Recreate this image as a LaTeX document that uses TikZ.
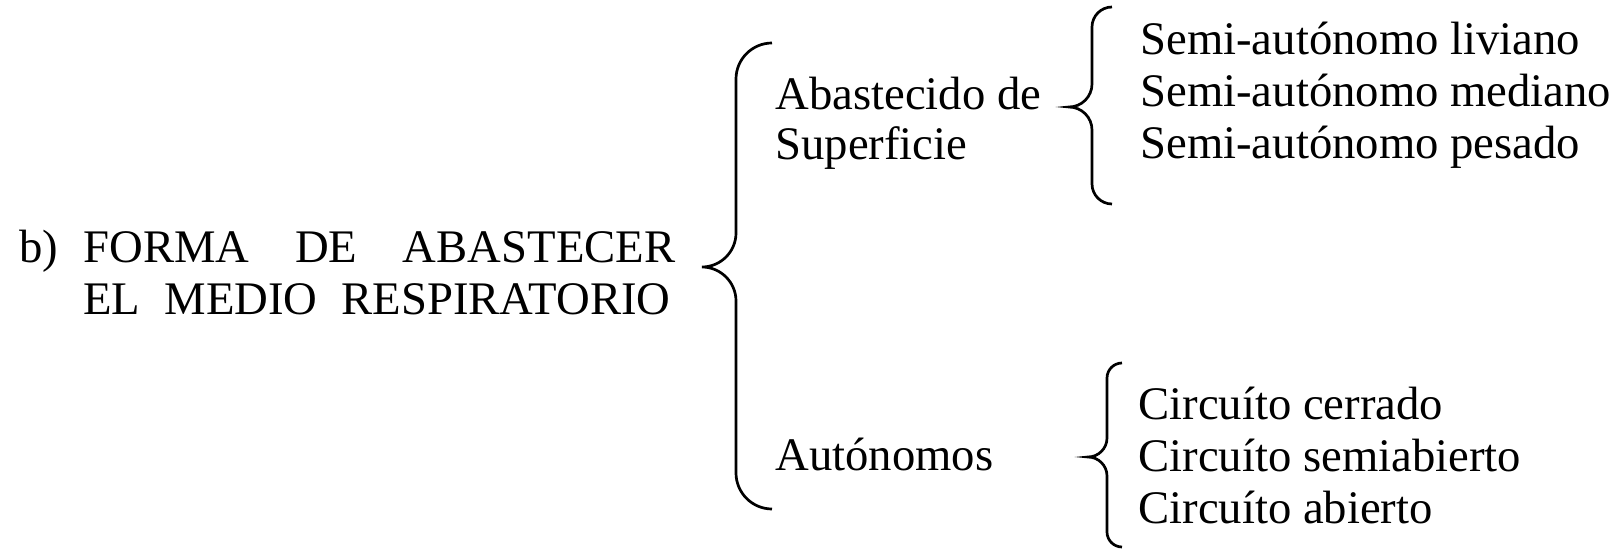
\documentclass[tikz,border=0pt]{standalone}
\usepackage{fontspec}
\setmainfont{Liberation Serif}

% curly brace: stem x, top y, tip y, bottom y, end radius, tip radius
\newcommand{\curlybrace}[6]{%
  \draw[line width=1.35pt]
    ({#1+#5},#2) .. controls ({#1+0.45*#5},#2) and (#1,{#2+0.45*#5}) .. (#1,{#2+#5})
    -- (#1,{#3-#6}) .. controls (#1,{#3-0.45*#6}) and ({#1-0.45*#6},#3) .. ({#1-#6},#3)
    .. controls ({#1-0.45*#6},#3) and (#1,{#3+0.45*#6}) .. (#1,{#3+#6})
    -- (#1,{#4-#5}) .. controls (#1,{#4-0.45*#5}) and ({#1+0.45*#5},#4) .. ({#1+#5},#4);
}

\begin{document}
\begin{tikzpicture}[x=0.5pt,y=-0.5pt,
  txt/.style={anchor=base west,inner sep=0pt,font=\fontsize{23.35}{26}\selectfont}]

  \useasboundingbox (0,0) rectangle (1616,550);

  % Title on the left
  \node[txt] (lbl) at (19,263) {b)};
  \node[txt] (title1) at (83,263) {\makebox[296pt][s]{FORMA DE ABASTECER}};
  \node[txt] (title2) at (83,315) {\makebox[293.5pt][s]{EL MEDIO RESPIRATORIO}};

  % Main brace
  \curlybrace{736}{43}{267}{509}{36}{34}

  % Middle column
  \node[txt] (abast1) at (775,110) {Abastecido de};
  \node[txt] (abast2) at (775,160) {Superficie};
  \node[txt] (auton) at (775,470) {Autónomos};

  % Upper right list
  \curlybrace{1092}{7}{107}{204}{20}{23}
  \foreach \txt [count=\i from 0] in {Semi-autónomo liviano, Semi-autónomo mediano, Semi-autónomo pesado}
  {
    \node[txt] (semi\i) at (1140,{55+52*\i}) {\txt};
  }

  % Lower right list
  \curlybrace{1107}{363}{457}{547}{15}{19}
  \foreach \txt [count=\i from 0] in {Circuíto cerrado, Circuíto semiabierto, Circuíto abierto}
  {
    \node[txt] (circ\i) at (1138,{419+52*\i}) {\txt};
  }

\end{tikzpicture}
\end{document}
